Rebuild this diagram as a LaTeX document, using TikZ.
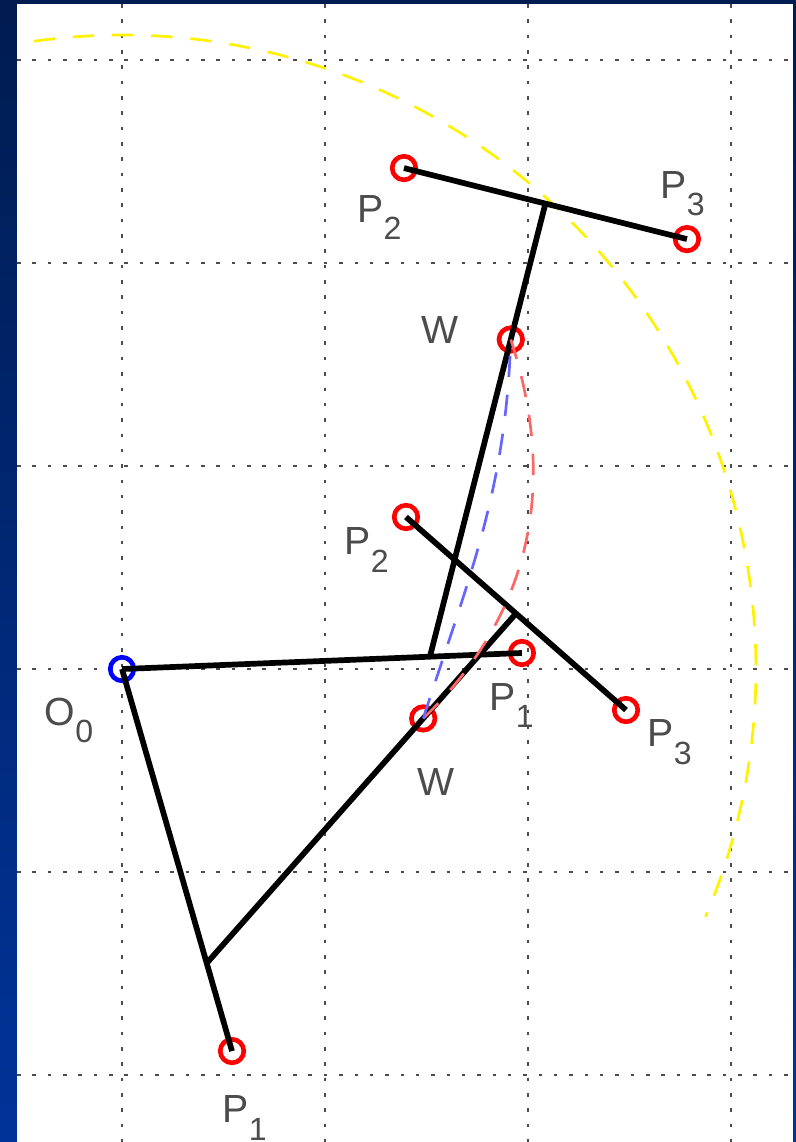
\documentclass[tikz,border=0pt]{standalone}
\usepackage{fontspec}
\setmainfont{Liberation Sans}
\usetikzlibrary{calc}
\newcommand{\idx}[1]{\raisebox{-4.8pt}{\fontsize{9}{9}\selectfont #1}}
\begin{document}
\begin{tikzpicture}[x=2cm,y=2cm,
  link/.style={line width=1.6pt,black},
  joint/.style={circle,draw=red,line width=1.3pt,inner sep=0pt,minimum size=6.6pt},
  grid line/.style={black!70,line width=0.75pt,dash pattern=on 1pt off 3.3pt},
  track/.style={line width=0.75pt,dash pattern=on 6pt off 5pt},
  lbl/.style={inner sep=0pt,anchor=base west,text=black!70,font=\fontsize{11}{11}\selectfont}]
\fill[top color={rgb,255:red,0;green,28;blue,80},bottom color={rgb,255:red,0;green,51;blue,153}] (-0.601,-2.330) rectangle (3.320,3.296);
\fill[white] (-0.517,-2.330) rectangle (3.305,3.276);
\useasboundingbox (-0.601,-2.330) rectangle (3.320,3.296);
\foreach \x in {0,1,2,3} \draw[grid line] (\x,3.276) -- (\x,-2.330);
\foreach \y in {-2,...,3} \draw[grid line] (-0.517,\y) -- (3.305,\y);
\coordinate (O0) at (0,0);
\coordinate (P1a) at (0.542,-1.882);
\coordinate (P2a) at (1.399,0.749);
\coordinate (P3a) at (2.483,-0.202);
\coordinate (P1b) at (1.970,0.079);
\coordinate (P2b) at (1.389,2.468);
\coordinate (P3b) at (2.783,2.118);
\coordinate (Aa) at ($(O0)!0.77!(P1a)$);
\coordinate (Ab) at ($(O0)!0.77!(P1b)$);
\coordinate (Ba) at ($(P2a)!0.5!(P3a)$);
\coordinate (Bb) at ($(P2b)!0.5!(P3b)$);
\coordinate (Wa) at ($(Aa)!0.7!(Ba)$);
\coordinate (Wb) at ($(Ab)!0.7!(Bb)$);
\draw[track,yellow] (O0) ++(98:3.123) arc[start angle=98,end angle=-23,radius=3.123];
\foreach \p in {P1a,P2a,P3a,Wa,P1b,P2b,P3b,Wb} \node[joint] (m\p) at (\p) {};
\node[joint,draw=blue] (mO0) at (O0) {};
\draw[link] (O0) -- (P1a);
\draw[link] (Aa) -- (Ba);
\draw[link] (P2a) -- (P3a);
\draw[link] (O0) -- (P1b);
\draw[link] (Ab) -- (Bb);
\draw[link] (P2b) -- (P3b);
\draw[track,red!60] (Wa) to[out=44,in=-72] (Wb);
\draw[track,blue!60] (Wa) to[out=72,in=-92] (Wb);
\node[lbl] (tO0) at (-0.384,-0.276) {O\idx{0}};
\node[lbl] (tP1a) at (0.492,-2.236) {P\idx{1}};
\node[lbl] (tP2a) at (1.093,0.562) {P\idx{2}};
\node[lbl] (tP3a) at (2.586,-0.384) {P\idx{3}};
\node[lbl] (tWa) at (1.450,-0.621) {W};
\node[lbl] (tP1b) at (1.808,-0.202) {P\idx{1}};
\node[lbl] (tP2b) at (1.157,2.202) {P\idx{2}};
\node[lbl] (tP3b) at (2.650,2.320) {P\idx{3}};
\node[lbl] (tWb) at (1.470,1.606) {W};
\end{tikzpicture}
\end{document}
